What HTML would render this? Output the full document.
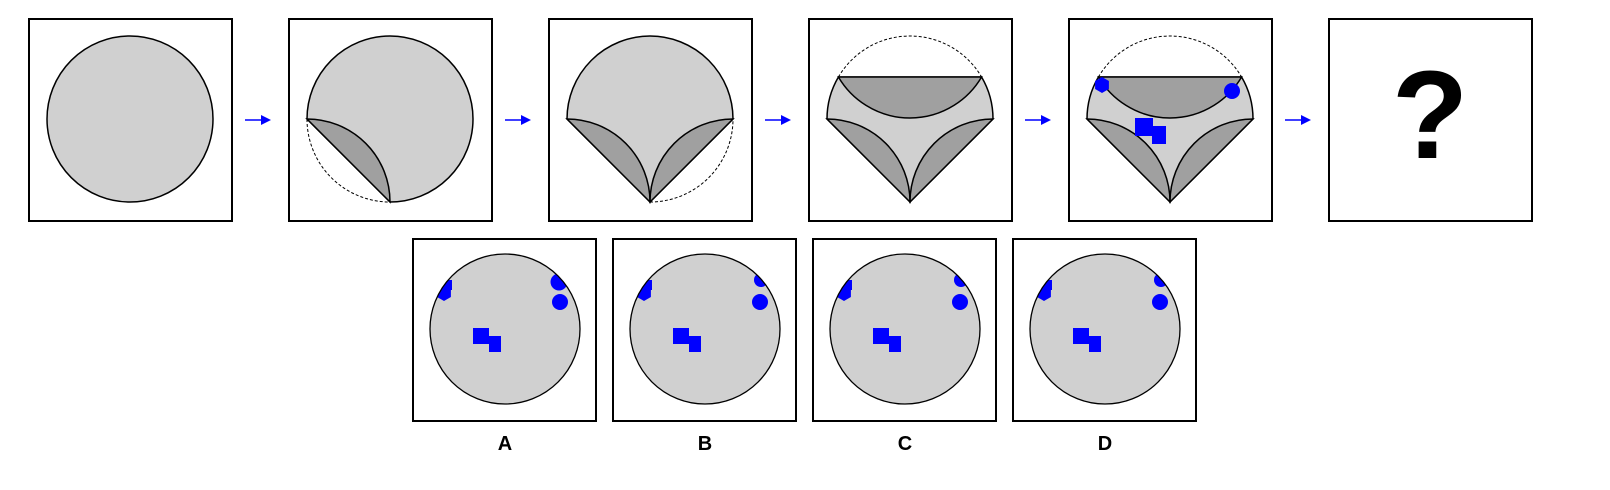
<!DOCTYPE html>
<html><head><meta charset="utf-8"><style>
html,body{margin:0;padding:0;background:#fff;}
svg{display:block;}
text{font-family:"Liberation Sans",sans-serif;font-weight:bold;}
</style></head><body>
<svg id="s" width="1610" height="490" viewBox="0 0 1610 490" xmlns="http://www.w3.org/2000/svg">
<defs>
<clipPath id="cA"><circle cx="505" cy="329" r="75"/></clipPath>
<clipPath id="cB"><circle cx="705" cy="329" r="75"/></clipPath>
<clipPath id="cC"><circle cx="905" cy="329" r="75"/></clipPath>
<clipPath id="cD"><circle cx="1105" cy="329" r="75"/></clipPath>
</defs>
</svg>
<script>
const NS='http://www.w3.org/2000/svg';
const svg=document.getElementById('s');
function mk(tag,attrs,parent){const e=document.createElementNS(NS,tag);for(const k in attrs)e.setAttribute(k,attrs[k]);(parent||svg).appendChild(e);return e;}
const LG='#d0d0d0',DG='#a0a0a0',BL='#0000ff';
const R=83,CY=119;
const labels=['A','B','C','D'];

for(let k=0;k<6;k++){
  const L=29+260*k, cx=L+101;
  const g=mk('g',{});
  
  
  const box=mk('rect',{x:L,y:19,width:203,height:202,fill:'#fff',stroke:'#000','stroke-width':2},g);
  
  
  const xl=cx-R,xr=cx+R,yb=CY+R;
  const st={stroke:'#000','stroke-width':1.5};
  if(k===0){
    mk('circle',Object.assign({cx:cx,cy:CY,r:R,fill:LG},st),g);
  } else if(k===1){
    mk('path',{d:`M${xl},${CY} A${R},${R} 0 0 0 ${cx},${yb}`,fill:'none',stroke:'#000','stroke-width':1,'stroke-dasharray':'3,2'},g);
    mk('path',Object.assign({d:`M${xl},${CY} A${R},${R} 0 1 1 ${cx},${yb} Z`,fill:LG},st),g);
    mk('path',Object.assign({d:`M${xl},${CY} A${R},${R} 0 0 1 ${cx},${yb} Z`,fill:DG},st),g);
  } else if(k===2){
    mk('path',{d:`M${cx},${yb} A${R},${R} 0 0 0 ${xr},${CY}`,fill:'none',stroke:'#000','stroke-width':1,'stroke-dasharray':'3,2'},g);
    mk('path',Object.assign({d:`M${xl},${CY} A${R},${R} 0 0 1 ${xr},${CY} L${cx},${yb} Z`,fill:LG},st),g);
    mk('path',Object.assign({d:`M${xl},${CY} A${R},${R} 0 0 1 ${cx},${yb} Z`,fill:DG},st),g);
    mk('path',Object.assign({d:`M${xr},${CY} A${R},${R} 0 0 0 ${cx},${yb} Z`,fill:DG},st),g);
  } else if(k===3||k===4){
    const yc=77,hw=Math.sqrt(R*R-(CY-yc)*(CY-yc));
    const a=cx-hw,b=cx+hw;
    mk('path',{d:`M${a},${yc} A${R},${R} 0 0 1 ${b},${yc}`,fill:'none',stroke:'#000','stroke-width':1,'stroke-dasharray':'3,2'},g);
    mk('path',Object.assign({d:`M${a},${yc} L${b},${yc} A${R},${R} 0 0 1 ${xr},${CY} L${cx},${yb} L${xl},${CY} A${R},${R} 0 0 1 ${a},${yc} Z`,fill:LG},st),g);
    mk('path',Object.assign({d:`M${xl},${CY} A${R},${R} 0 0 1 ${cx},${yb} Z`,fill:DG},st),g);
    mk('path',Object.assign({d:`M${xr},${CY} A${R},${R} 0 0 0 ${cx},${yb} Z`,fill:DG},st),g);
    mk('path',Object.assign({d:`M${a},${yc} L${b},${yc} A${R},${R} 0 0 1 ${a},${yc} Z`,fill:DG},st),g);
    if(k===4){
      const hx=cx-68,hy=85,hr=8;let pts=[];
      for(let i=0;i<6;i++){const an=Math.PI/6+i*Math.PI/3;pts.push((hx+hr*Math.cos(an)).toFixed(1)+','+(hy+hr*Math.sin(an)).toFixed(1));}
      const h=mk('polygon',{points:pts.join(' '),fill:BL},g);
      
      
      const c=mk('circle',{cx:cx+62,cy:91,r:8,fill:BL},g);
      
      
      const q1=mk('rect',{x:cx-35,y:118,width:18,height:18,fill:BL},g);
      
      
      const q2=mk('rect',{x:cx-18,y:126,width:14,height:18,fill:BL},g);
      
      
    }
  } else {
    const t=mk('text',{x:cx,y:158,'font-size':125,'text-anchor':'middle',fill:'#000'},g);
    t.textContent='?';
    
    
  }
  if(k<5){
    const ax=L+203+13;
    const ar=mk('g',{},svg);
    
    
    mk('line',{x1:ax,y1:120,x2:ax+18,y2:120,stroke:BL,'stroke-width':1.5},ar);
    mk('polygon',{points:`${ax+16},115 ${ax+26},120 ${ax+16},125`,fill:BL},ar);
  }
}

for(let i=0;i<4;i++){
  const L=413+200*i, cx=L+92, cy=329;
  const g=mk('g',{});
  
  
  mk('rect',{x:L,y:239,width:183,height:182,fill:'#fff',stroke:'#000','stroke-width':2},g);
  mk('circle',{cx:cx,cy:cy,r:75,fill:LG},g);
  const cg=mk('g',{'clip-path':`url(#c${labels[i]})`},g);
  let pts=[];const hx=L+31,hy=293,hr=8;
  for(let j=0;j<6;j++){const an=Math.PI/6+j*Math.PI/3;pts.push((hx+hr*Math.cos(an)).toFixed(1)+','+(hy+hr*Math.sin(an)).toFixed(1));}
  mk('polygon',{points:pts.join(' '),fill:BL},cg);
  mk('rect',{x:L+29,y:280,width:10,height:10,fill:BL},cg);
  if(i===0) mk('circle',{cx:L+146,cy:282,r:8.5,fill:BL},cg);
  else mk('circle',{cx:L+148,cy:280,r:7,fill:BL},cg);
  mk('circle',{cx:L+147,cy:302,r:8,fill:BL},cg);
  mk('rect',{x:L+60,y:328,width:16,height:16,fill:BL},cg);
  mk('rect',{x:L+76,y:336,width:12,height:16,fill:BL},cg);
  mk('circle',{cx:cx,cy:cy,r:75,fill:'none',stroke:'#000','stroke-width':1.3},g);
  const t=mk('text',{x:cx,y:450,'font-size':20,'text-anchor':'middle',fill:'#000'},g);
  t.textContent=labels[i];
  
  
}
</script>
</body></html>
